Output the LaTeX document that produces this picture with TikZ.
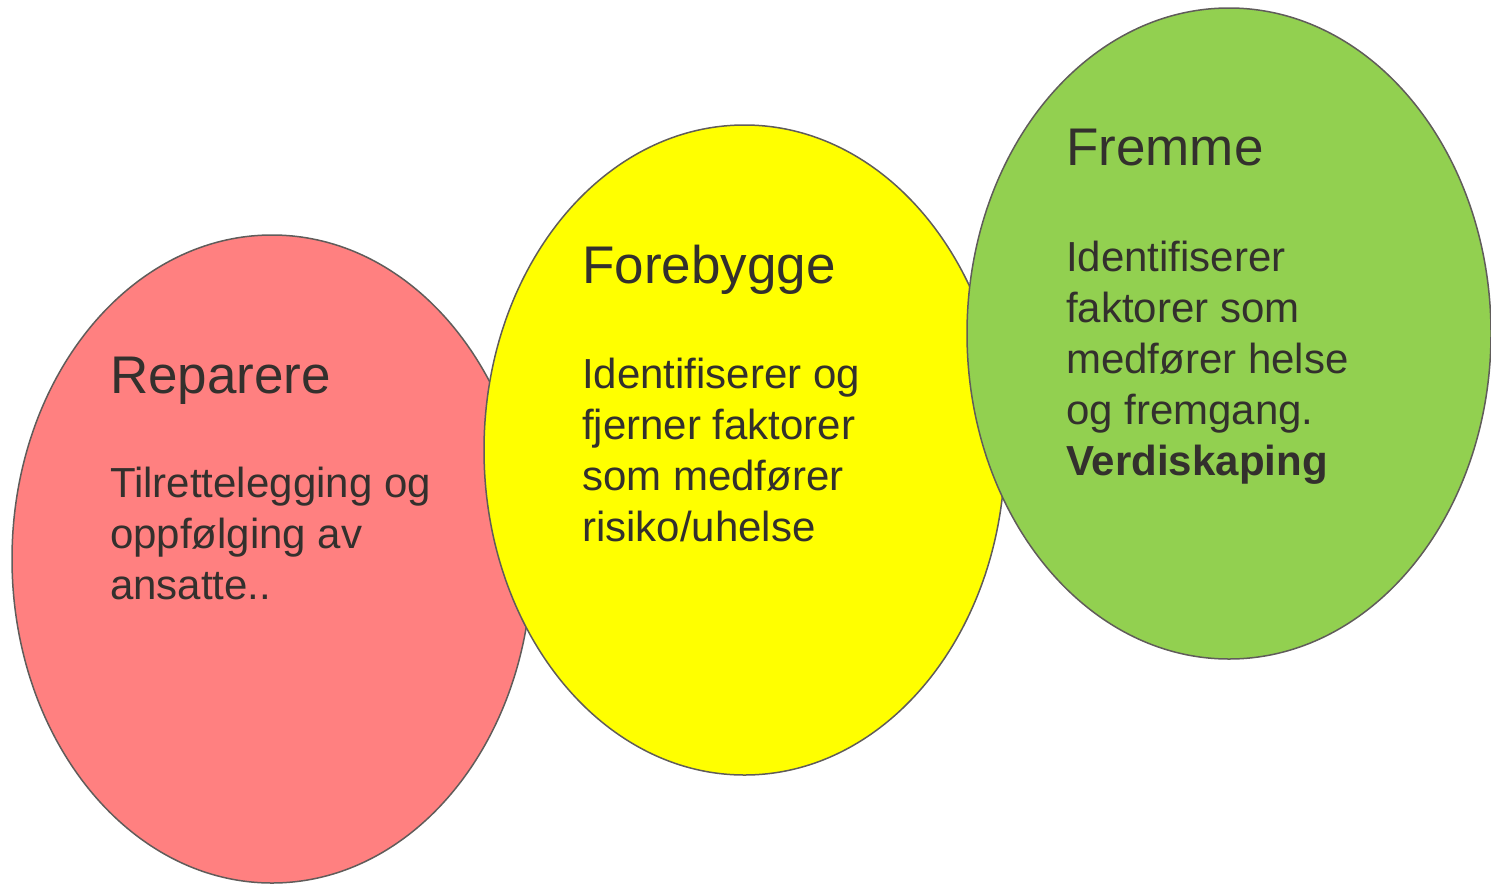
\documentclass[tikz,border=0pt]{standalone}
\usepackage{fontspec}
\setmainfont{Liberation Sans}
\usepackage{tikz}
\usetikzlibrary{shapes.geometric}
\definecolor{redfill}{RGB}{255,128,128}
\definecolor{yellowfill}{RGB}{255,255,0}
\definecolor{greenfill}{RGB}{146,208,80}
\definecolor{rim}{RGB}{96,92,90}
\definecolor{ink}{RGB}{51,48,45}
\tikzstyle{blob} = [ellipse, draw=rim, line width=1.5pt, inner sep=0pt]
\tikzstyle{title} = [anchor=base west, inner sep=0pt, text=ink, font=\fontsize{53}{62}\selectfont]
\tikzset{
  body/.style ={anchor=base west, inner sep=0pt, text=ink, align=left, font=\fontsize{42}{51}\selectfont}
}

\begin{document}
\begin{tikzpicture}[x=1pt, y=-1pt]
 \useasboundingbox (0,0) rectangle (1491,884);
 \node[blob, fill=redfill, minimum width=520pt, minimum height=648pt] (reparere) at (272,559) {};
 \node[blob, fill=yellowfill, minimum width=521pt, minimum height=650pt] (forebygge) at (744.5,450) {};
 \node[blob, fill=greenfill, minimum width=524pt, minimum height=651pt] (fremme) at (1229,333.5) {};

 % body nodes sit on the baseline of their last line
 \node[title] (reptitle) at (110,393) {Reparere};
 \node[body] (reptext) at (110,599) {Tilrettelegging og\\oppfølging av\\ansatte..};

 \node[title] (foretitle) at (582,283) {Forebygge};
 \node[body] (foretext) at (582,541) {Identifiserer og\\fjerner faktorer\\som medfører\\risiko/uhelse};

 \node[title] (fremtitle) at (1066,165) {Fremme};
 \node[body] (fremtext) at (1066,475) {Identifiserer\\faktorer som\\medfører helse\\og fremgang.\\\textbf{Verdiskaping}};
\end{tikzpicture}
\end{document}
